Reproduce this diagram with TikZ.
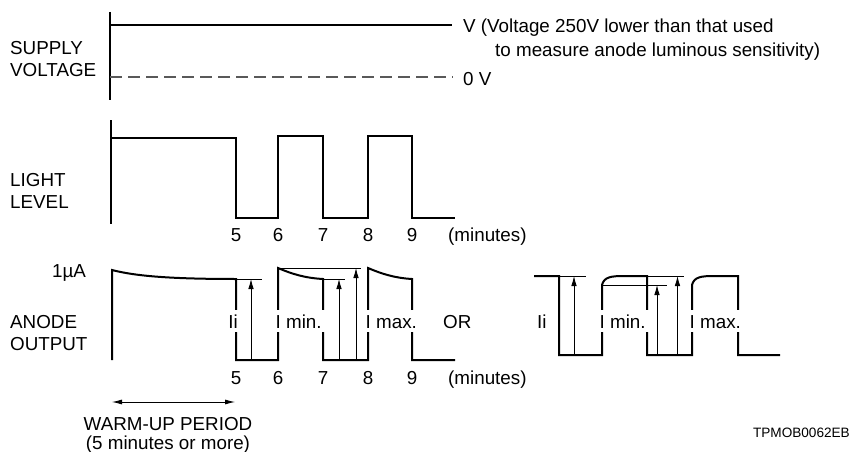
\documentclass[tikz,border=0pt]{standalone}
\usepackage{fontspec}
\setmainfont{Liberation Sans}
\usetikzlibrary{arrows.meta}
\tikzset{
  sig/.style={line width=2pt,line join=miter},
  ref/.style={line width=0.8pt},
  meas/.style={line width=0.8pt,-{Latex[length=10pt,width=5.5pt]}},
  txt/.style={anchor=base west,inner sep=0pt},
  num/.style={anchor=base,inner sep=0pt},
  tag/.style={anchor=base west,fill=white,inner xsep=3pt,inner ysep=1pt,text height=17pt,text depth=3pt},
}
\begin{document}
\begin{tikzpicture}[x=1pt,y=-1pt,every node/.append style={font=\fontsize{18.8}{22}\selectfont}]
  \useasboundingbox (0,0) rectangle (852,452);
  % supply voltage
  \draw[sig] (110,12) -- (110,100);
  \draw[sig] (110,25) -- (452,25);
  \draw[line width=1.4pt,gray!70!black,dash pattern=on 12pt off 6pt] (110,77) -- (453,77);
  \node[txt] (sup1) at (10,55) {SUPPLY};
  \node[txt] (sup2) at (10,77) {VOLTAGE};
  \node[txt] (vhi) at (463,33) {V (Voltage 250V lower than that used};
  \node[txt] (vhi2) at (495,57) {to measure anode luminous sensitivity)};
  \node[txt] (vlo) at (463,86) {0 V};
  % light level
  \draw[sig] (111,120) -- (111,224);
  \draw[sig] (111,138) -- (236,138) -- (236,218) -- (278,218) -- (278,136) -- (323,136)
    -- (323,218) -- (368,218) -- (368,136) -- (412,136) -- (412,218) -- (455,218);
  \node[txt] (lig1) at (10,186.5) {LIGHT};
  \node[txt] (lig2) at (10,208) {LEVEL};
  \foreach \x/\n in {236/5,278/6,323/7,368/8,412/9}
    \node[num] (lt\n) at (\x,241) {\n};
  \node[txt] (ltmin) at (448,241) {(minutes)};
  % anode output, decaying case
  \draw[sig] (112,360) -- (112,270) .. controls (135,276) and (170,279) .. (236,279) -- (236,360)
    -- (278,360) -- (278,268) .. controls (292,274) and (305,278) .. (323,279) -- (323,360)
    -- (368,360) -- (368,268) .. controls (382,274) and (395,278) .. (412,279) -- (412,360) -- (455,360);
  \draw[ref] (236,279) -- (262,279);
  \draw[ref] (278,268) -- (361,268);
  \draw[ref] (323,279) -- (345,279);
  \coordinate (a1b) at (251,360); \coordinate (a1t) at (251,279);
  \coordinate (a2b) at (339,360); \coordinate (a2t) at (339,279);
  \coordinate (a3b) at (356,360); \coordinate (a3t) at (356,268);
  \draw[meas] (a1b) -- (a1t);
  \draw[meas] (a2b) -- (a2t);
  \draw[meas] (a3b) -- (a3t);
  \node[tag,anchor=base east] (ii1) at (241,328) {Ii};
  \node[tag] (imin1) at (272.5,328) {I min.};
  \node[tag] (imax1) at (362.5,328) {I max.};
  \node[txt] (ua) at (52,277) {1µA};
  \node[txt] (an1) at (10,328) {ANODE};
  \node[txt] (an2) at (10,350) {OUTPUT};
  \foreach \x/\n in {236/5,278/6,323/7,368/8,412/9}
    \node[num] (at\n) at (\x,384) {\n};
  \node[txt] (atmin) at (448,384) {(minutes)};
  \node[txt] (or) at (443,328) {OR};
  % anode output, rising case
  \draw[sig] (534,276) -- (559,276) -- (559,355) -- (602,355) -- (602,285)
    .. controls (604,277) and (611,276) .. (624,276) -- (647,276) -- (647,355) -- (692,355) -- (692,285)
    .. controls (694,277) and (701,276) .. (714,276) -- (738,276) -- (738,355) -- (780,355);
  \draw[ref] (559,276) -- (586,276);
  \draw[ref] (602,285) -- (667,285);
  \draw[ref] (647,276) -- (684,276);
  \coordinate (b1b) at (574,355); \coordinate (b1t) at (574,276);
  \coordinate (b2b) at (657,355); \coordinate (b2t) at (657,285);
  \coordinate (b3b) at (677.5,355); \coordinate (b3t) at (677.5,276);
  \draw[meas] (b1b) -- (b1t);
  \draw[meas] (b2b) -- (b2t);
  \draw[meas] (b3b) -- (b3t);
  \node[txt] (ii2) at (537,328) {Ii};
  \node[tag] (imin2) at (596.5,328) {I min.};
  \node[tag] (imax2) at (686.5,328) {I max.};
  % warm-up
  \coordinate (wul) at (112,402);
  \coordinate (wur) at (235,402);
  \draw[ref,{Latex[length=10pt,width=5pt]}-{Latex[length=10pt,width=5pt]}] (wul) -- (wur);
  \node[num] (wu1) at (168,430) {WARM-UP PERIOD};
  \node[num] (wu2) at (168,449) {(5 minutes or more)};
  \node[anchor=base east,inner sep=0pt,font=\fontsize{13.6}{16}\selectfont] (code) at (850,437) {TPMOB0062EB};
\end{tikzpicture}
\end{document}
